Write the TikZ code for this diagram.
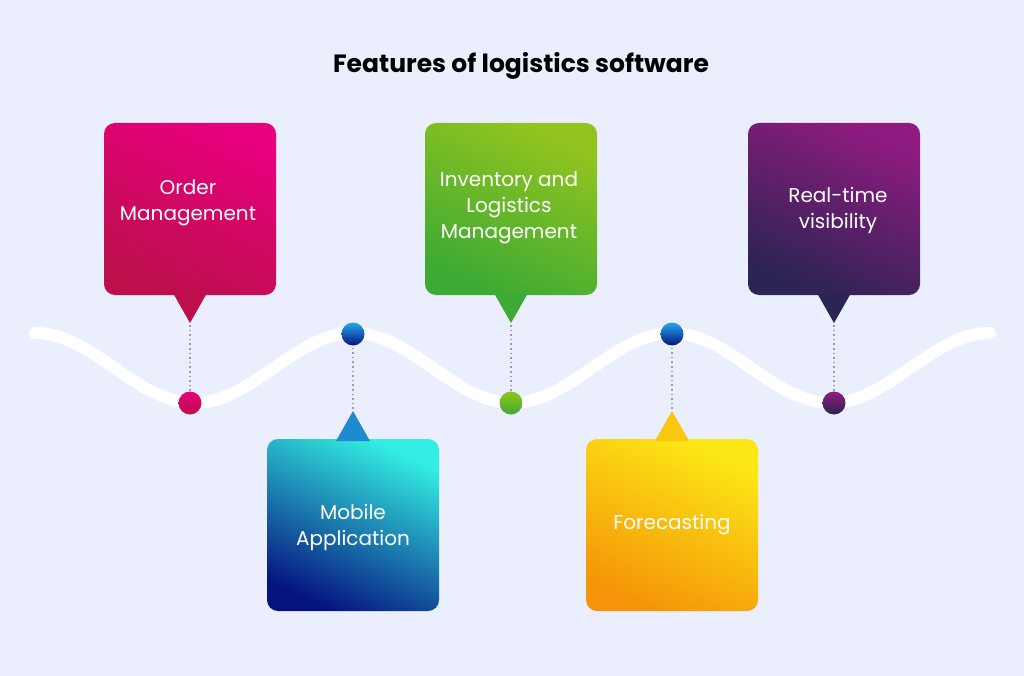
\documentclass[tikz,border=0pt]{standalone}
\usepackage{fontspec}
\setmainfont{Poppins}
\usetikzlibrary{positioning,calc}
\definecolor{bgc}{HTML}{EBEEFC}
\definecolor{magA}{HTML}{E8007E}\definecolor{magB}{HTML}{BC0F4C}
\definecolor{grnA}{HTML}{93C41E}\definecolor{grnB}{HTML}{3CAA34}
\definecolor{purA}{HTML}{8E1B80}\definecolor{purB}{HTML}{2C2452}
\definecolor{cyaA}{HTML}{33EEE2}\definecolor{cyaB}{HTML}{061480}
\definecolor{yelA}{HTML}{FCE816}\definecolor{yelB}{HTML}{F59408}
\definecolor{dotc}{HTML}{9A9AB0}
\tikzset{
  card/.style={text=white,align=center,font=\fontsize{20}{26}\selectfont,inner sep=0pt},
  pin/.style={circle,minimum size=22pt,inner sep=0pt},
  link/.style={dotc,line width=1.6pt,dash pattern=on 1.6pt off 3pt}
}
\begin{document}
\begin{tikzpicture}[x=1pt,y=-1pt]
\fill[bgc] (0,0) rectangle (1024,676);
\useasboundingbox (0,0) rectangle (1024,676);
\node[font=\bfseries\fontsize{25}{28}\selectfont] (title) at (521,66) {Features of logistics software};
% wave
\draw[white,line width=12pt,line cap=round] plot[domain=35:990,samples=120,smooth]
  (\x,{368-35*cos((\x-35)/318.3*360)});
% top cards
\shade[rounded corners=11pt,top color=magA,bottom color=magB,shading angle=-25] (104,123) rectangle (276,295);
\fill[magB] (173,293) -- (207,293) -- (190,323) -- cycle;
\node[card] (order) at (188,203) {Order\\Management};
\shade[rounded corners=11pt,top color=grnA,bottom color=grnB,shading angle=-25] (425,123) rectangle (597,295);
\fill[grnB] (494,293) -- (528,293) -- (511,323) -- cycle;
\node[card] (inventory) at (509,208) {Inventory and\\Logistics\\Management};
\shade[rounded corners=11pt,top color=purA,bottom color=purB,shading angle=-25] (748,123) rectangle (920,295);
\fill[purB] (817,293) -- (851,293) -- (834,323) -- cycle;
\node[card] (realtime) at (838,210) {Real-time\\visibility};
% bottom cards
\shade[rounded corners=11pt,top color=cyaA,bottom color=cyaB,shading angle=-25] (267,439) rectangle (439,611);
\fill[cyaB!30!cyaA!80!blue] (336,441) -- (370,441) -- (353,411) -- cycle;
\node[card] (mobile) at (353,527) {Mobile\\Application};
\shade[rounded corners=11pt,top color=yelA,bottom color=yelB,shading angle=-25] (586,439) rectangle (758,611);
\fill[yelA!60!yelB] (655,441) -- (689,441) -- (672,411) -- cycle;
\node[card] (forecast) at (672,525) {Forecasting};
% pins
\shade[top color=magA,bottom color=magB] (190,403) circle (11.5pt);
\node[pin] (p1) at (190,403) {};
\shade[top color=cyaA!70!blue,bottom color=cyaB] (353,334) circle (11.5pt);
\node[pin] (p2) at (353,334) {};
\shade[top color=grnA,bottom color=grnB] (511,403) circle (11.5pt);
\node[pin] (p3) at (511,403) {};
\shade[top color=cyaA!70!blue,bottom color=cyaB] (672,334) circle (11.5pt);
\node[pin] (p4) at (672,334) {};
\shade[top color=purA,bottom color=purB] (834,403) circle (11.5pt);
\node[pin] (p5) at (834,403) {};
% dotted links
\coordinate (t1) at (190,325);\coordinate (t2) at (353,409);
\coordinate (t3) at (511,325);\coordinate (t4) at (672,409);
\coordinate (t5) at (834,325);
\draw[link] (t1) -- (p1.north);
\draw[link] (t2) -- (p2.south);
\draw[link] (t3) -- (p3.north);
\draw[link] (t4) -- (p4.south);
\draw[link] (t5) -- (p5.north);
\end{tikzpicture}
\end{document}
